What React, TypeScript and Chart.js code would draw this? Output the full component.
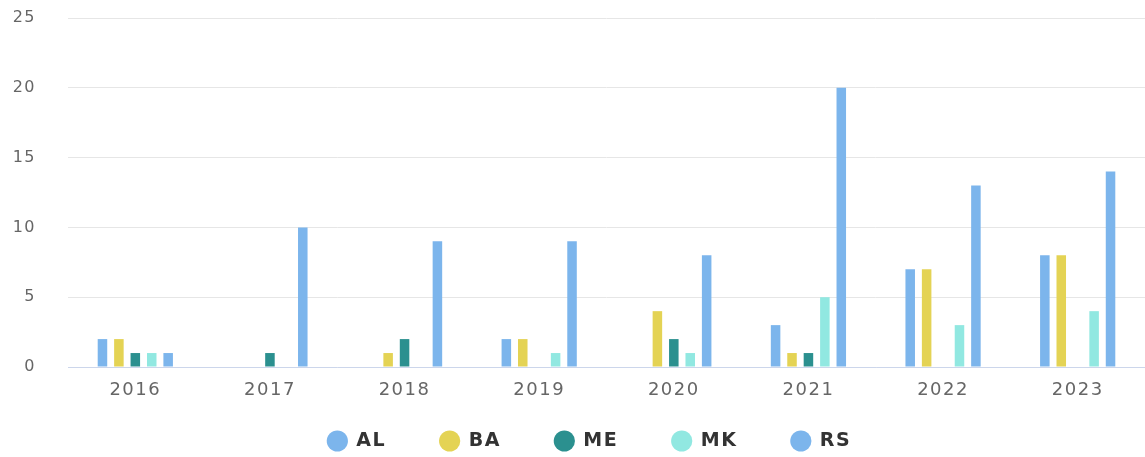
import React, { useEffect, useRef } from "react";
import { Chart, registerables } from "chart.js";

Chart.register(...registerables);

const categories = ["2016", "2017", "2018", "2019", "2020", "2021", "2022", "2023"];
const seriesNames = ["AL", "BA", "ME", "MK", "RS"];
const alValues = [2, 0, 0, 2, 0, 3, 7, 8];
const baValues = [2, 0, 1, 2, 4, 1, 7, 8];
const meValues = [1, 1, 2, 0, 2, 1, 0, 0];
const mkValues = [1, 0, 0, 1, 1, 5, 3, 4];
const rsValues = [1, 10, 9, 9, 8, 20, 13, 14];
const yTicks = [0, 5, 10, 15, 20, 25];
const seriesColors = ["#7cb5ec", "#e4d354", "#2b908f", "#91e8e1", "#7cb5ec"];

const W = 1145;
const H = 457;
const LEGEND_PAD = 54;
const LEGEND_CENTER_Y = 441;
const LEGEND_FONT = 19;

export default function App() {
  const ref = useRef<HTMLCanvasElement | null>(null);

  useEffect(() => {
    if (!ref.current) return;
    const values = [alValues, baValues, meValues, mkValues, rsValues];
    const spacing = {
      id: "spacing",
      beforeUpdate(chart: any) {
        chart.ctx.letterSpacing = "1.5px";
      },
      beforeDraw(chart: any) {
        chart.ctx.letterSpacing = "1.5px";
      },
      afterLayout(chart: any) {
        if (chart.legend) {
          chart.legend.left += 34;
          chart.legend.top = LEGEND_CENTER_Y - LEGEND_FONT / 2 - LEGEND_PAD;
          chart.legend.bottom = H;
          chart.legend.height = chart.legend.bottom - chart.legend.top;
        }
      },
    };
    const chart = new Chart(ref.current, {
      type: "bar",
      data: {
        labels: categories,
        datasets: seriesNames.map((name, i) => ({
          label: name,
          data: values[i],
          backgroundColor: seriesColors[i],
          borderWidth: 0,
          categoryPercentage: 0.61,
          barPercentage: 0.58,
        })),
      },
      options: {
        responsive: false,
        animation: false,
        layout: { padding: { top: 18, right: 0, left: 0, bottom: 0 } },
        plugins: {
          tooltip: { enabled: false },
          legend: {
            position: "bottom",
            maxHeight: 50,
            labels: {
              usePointStyle: true,
              pointStyle: "circle",
              boxWidth: 26,
              boxHeight: 15,
              padding: LEGEND_PAD,
              color: "#333333",
              font: { family: "'DejaVu Sans', sans-serif", size: LEGEND_FONT, weight: "bold" },
            },
          },
        },
        scales: {
          x: {
            grid: { display: false, drawTicks: false },
            border: { display: true, color: "#ccd6eb", width: 1 },
            ticks: {
              color: "#666666",
              padding: 13,
              font: { family: "'DejaVu Sans', sans-serif", size: 18 },
              maxRotation: 0,
            },
            afterFit(scale: any) {
              scale.height = 40;
              scale.paddingLeft = 0;
              scale.paddingRight = 0;
            },
          },
          y: {
            min: 0,
            max: 25,
            afterBuildTicks(scale: any) {
              scale.ticks = yTicks.map((v) => ({ value: v }));
            },
            grid: { color: "#e6e6e6", drawTicks: false, lineWidth: 1 },
            border: { display: false },
            ticks: {
              color: "#666666",
              padding: 32,
              font: { family: "'DejaVu Sans', sans-serif", size: 16 },
            },
            afterFit(scale: any) {
              scale.width = 68;
              scale.paddingTop = 0;
              scale.paddingBottom = 0;
            },
          },
        },
      },
      plugins: [spacing],
    } as any);
    return () => chart.destroy();
  }, []);

  return (
    <div style={{ position: "absolute", left: 0, top: 0, width: W, height: H, background: "#ffffff" }}>
      <canvas ref={ref} width={W} height={H} style={{ display: "block" }} />
    </div>
  );
}
